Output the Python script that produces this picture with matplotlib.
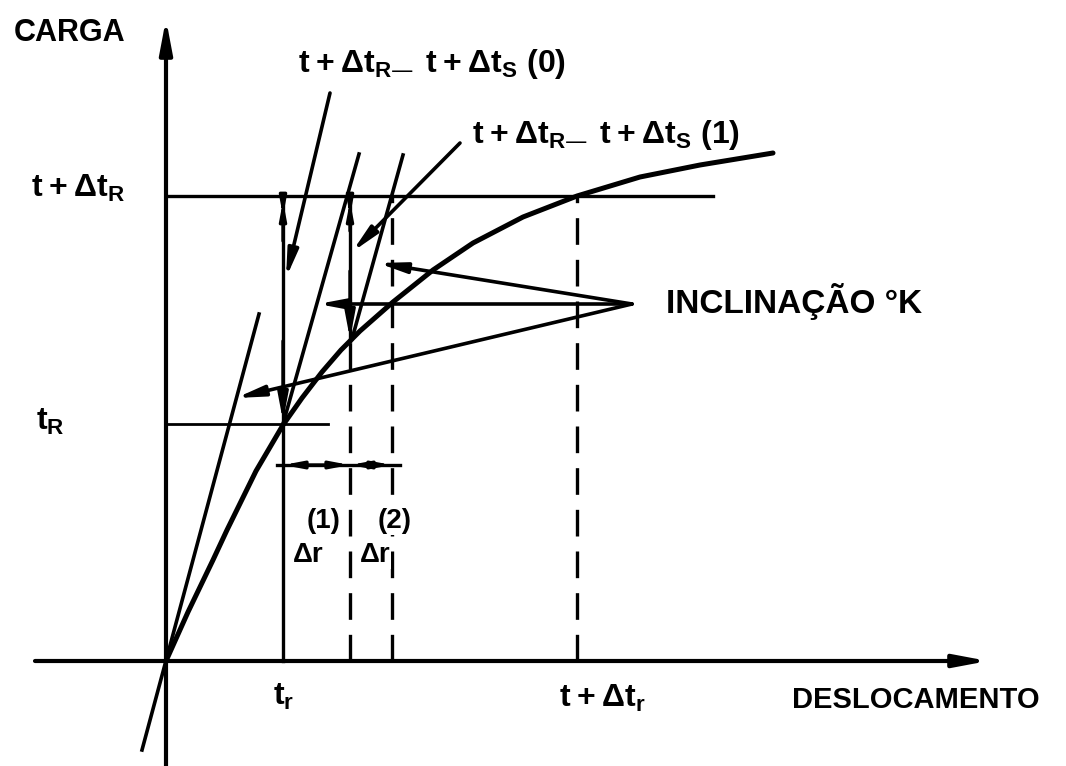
import numpy as np
import matplotlib.pyplot as plt

plt.rcParams['font.family'] = ['Liberation Sans', 'DejaVu Sans']
plt.rcParams['font.weight'] = 'bold'
plt.rcParams['mathtext.default'] = 'regular'

# load-displacement curve (displacement, load)
curve_x = [0.0, 0.22, 0.47, 0.61, 0.90, 1.17, 1.36, 1.56, 1.75, 1.94, 2.27, 2.67, 3.07, 3.57, 4.11, 4.74, 5.34, 6.07]
curve_y = [0.0, 0.49, 1.01, 1.31, 1.90, 2.36, 2.63, 2.89, 3.11, 3.30, 3.59, 3.91, 4.18, 4.44, 4.65, 4.84, 4.96, 5.08]

load_t = 2.37        # tR
load_tdt = 4.65      # t+dt R
disp_t = 1.17        # tr
disp_tdt = 4.11      # t+dt r
disp_iter = [1.84, 2.26]   # iterates (1), (2)
curve_at_iter = 3.20

# lines with initial stiffness K0 (start, end)
k_lines = [((-0.24, -0.89), (0.93, 3.47)),
           ((1.17, 2.37), (1.93, 5.07)),
           ((1.86, 3.22), (2.37, 5.06))]

incl_tip = (4.66, 3.57)
incl_targets = [(2.12, 3.98), (1.52, 3.57), (0.70, 2.63)]

fig = plt.figure(figsize=(10.66, 7.66), dpi=100)
ax = fig.add_axes([0, 0, 1, 1])
ax.set_xlim(-1.66, 9.0)
ax.set_ylim(-1.05, 6.61)
ax.axis('off')

def arrow(tail, tip, lw=2.5, style='-|>', ms=18, hl=0.9, hw=0.17):
    ax.annotate('', xy=tip, xytext=tail,
                arrowprops=dict(arrowstyle=f'{style},head_length={hl},head_width={hw}',
                                lw=lw, color='black', mutation_scale=ms,
                                shrinkA=0, shrinkB=0))

# axes
arrow((0, -1.05), (0, 6.42), lw=3, ms=22)
arrow((-1.31, 0), (8.22, 0), lw=3, ms=22)

# curve
ax.plot(curve_x, curve_y, color='black', lw=3.6, solid_capstyle='round', solid_joinstyle='round')

# load levels
ax.plot([0, 5.47], [load_tdt, load_tdt], color='black', lw=2.4)
ax.plot([0, 1.62], [load_t, load_t], color='black', lw=2.0)

# stiffness lines
for (x0, y0), (x1, y1) in k_lines:
    ax.plot([x0, x1], [y0, y1], color='black', lw=2.6)

# first residual: from t+dt R down to tr
ax.plot([disp_t, disp_t], [0, load_tdt], color='black', lw=2.4)
arrow((disp_t, 3.2), (disp_t, load_t + 0.03), lw=2.4)
arrow((disp_t, 4.2), (disp_t, load_tdt - 0.05), lw=2.4, ms=11)
arrow((disp_t, 4.6), (disp_t, 4.45), lw=2.4, ms=11)

# second residual
ax.plot([disp_iter[0], disp_iter[0]], [curve_at_iter, load_tdt], color='black', lw=2.4)
arrow((disp_iter[0], 3.9), (disp_iter[0], curve_at_iter + 0.02), lw=2.4)
arrow((disp_iter[0], 4.3), (disp_iter[0], load_tdt - 0.05), lw=2.4, ms=11)
arrow((disp_iter[0], 4.6), (disp_iter[0], 4.45), lw=2.4, ms=11)

# dashed projections
ax.plot([disp_iter[0], disp_iter[0]], [0, curve_at_iter], color='black', lw=2.4, dashes=(8, 4.5))
ax.plot([disp_iter[1], disp_iter[1]], [0, load_tdt], color='black', lw=2.4, dashes=(8, 4.5))
ax.plot([disp_tdt, disp_tdt], [0, load_tdt], color='black', lw=2.4, dashes=(8, 4.5))

# displacement increments
ax.plot([1.11, 2.34], [1.96, 1.96], color='black', lw=2.4)
arrow((disp_t, 1.96), (disp_iter[0], 1.96), lw=2.4, style='<|-|>', ms=12)
arrow((disp_iter[0], 1.96), (disp_iter[1], 1.96), lw=2.4, style='<|-|>', ms=12)

# leaders
arrow((1.64, 5.68), (1.20, 3.83), lw=2.6)
arrow((2.94, 5.18), (1.86, 4.09), lw=2.6)
for tgt in incl_targets:
    arrow(incl_tip, tgt, lw=2.6)

# labels
ax.text(-1.52, 6.28, 'CARGA', fontsize=22, ha='left', va='center')
ax.text(-1.35, 4.64, r'$t+Δt_R$', fontsize=23, ha='left', va='baseline')
ax.text(-1.30, 2.31, r'$t_R$', fontsize=23, ha='left', va='baseline')
ax.text(1.07, -0.44, r'$t_r$', fontsize=23, ha='left', va='baseline')
ax.text(3.93, -0.46, r'$t+Δt_r$', fontsize=23, ha='left', va='baseline')
ax.text(6.26, -0.47, 'DESLOCAMENTO', fontsize=21, ha='left', va='baseline')
ax.text(5.00, 3.48, 'INCLINAÇÃO °K', fontsize=24, ha='left', va='baseline')
ax.text(1.32, 5.89, r'$t+Δt_{R—}\ t+Δt_S$ (0)', fontsize=23, ha='left', va='baseline')
ax.text(3.06, 5.18, r'$t+Δt_{R—}\ t+Δt_S$ (1)', fontsize=23, ha='left', va='baseline')
wbox = dict(facecolor='white', edgecolor='none', pad=0.5)
ax.text(1.41, 1.33, '(1)', fontsize=20, ha='left', va='baseline')
ax.text(1.27, 0.99, 'Δr', fontsize=20, ha='left', va='baseline')
ax.text(2.12, 1.33, '(2)', fontsize=20, ha='left', va='baseline', bbox=wbox)
ax.text(1.94, 0.99, 'Δr', fontsize=20, ha='left', va='baseline', bbox=wbox)

fig.savefig('out.png', dpi=100)
